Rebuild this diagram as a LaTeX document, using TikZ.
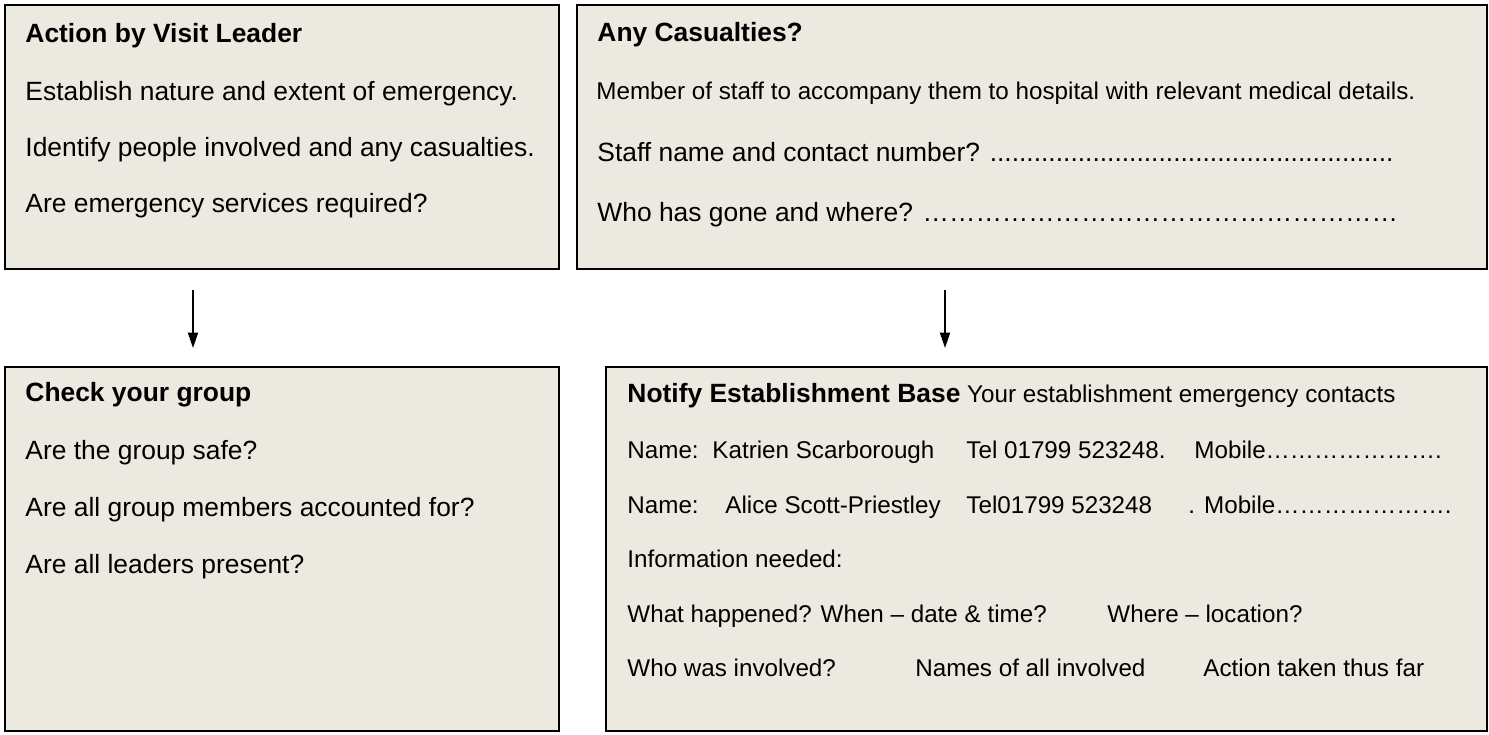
\documentclass[tikz,border=0pt]{standalone}
\usepackage{fontspec}
\setmainfont{Liberation Sans}
\usetikzlibrary{arrows.meta,calc}
\definecolor{boxfill}{RGB}{236,233,224}

\begin{document}
\begin{tikzpicture}[x=0.4545pt, y=-0.4545pt,
    panel/.style={draw=black, line width=0.9pt, fill=boxfill, inner sep=0pt, anchor=north west},
    head/.style={anchor=base west, inner sep=0pt, font=\fontsize{12}{14}\selectfont\bfseries},
    big/.style={anchor=base west, inner sep=0pt, font=\fontsize{12}{14}\selectfont},
    small/.style={anchor=base west, inner sep=0pt, font=\fontsize{11}{13}\selectfont},
    flow/.style={-{Triangle[length=7pt,width=4.6pt]}, line width=0.7pt, shorten <=9pt, shorten >=8.2pt}]
    \useasboundingbox (0,0) rectangle (1489,734);

    % Draw boxes
    \node[panel, minimum width=251.8pt, minimum height=120pt] (leader) at (4,4) {};
    \node[panel, minimum width=413.6pt, minimum height=120pt] (casualties) at (576,4) {};
    \node[panel, minimum width=251.8pt, minimum height=165.4pt] (group) at (4,366) {};
    \node[panel, minimum width=400.4pt, minimum height=165.4pt] (notify) at (605,366) {};

    % Draw arrows
    \draw[flow] ($(leader.south west)+(189,0)$) -- ($(group.north west)+(189,0)$);
    \draw[flow] ($(casualties.south west)+(369,0)$) -- ($(notify.north west)+(340,0)$);

    % Action by Visit Leader
    \node[head] (leaderhead) at (25,42) {Action by Visit Leader};
    \node[big] (leaderone) at (25,100) {Establish nature and extent of emergency.};
    \node[big] (leadertwo) at (25,156) {Identify people involved and any casualties.};
    \node[big] (leaderthree) at (25,212) {Are emergency services required?};

    % Any Casualties?
    \node[head] (casualtieshead) at (597,41) {Any Casualties?};
    \node[small] (casualtiesone) at (596,99) {Member of staff to accompany them to hospital with relevant medical details.};
    \node[big] (casualtiestwo) at (597,161) {Staff name and contact number? .......................................................};
    \node[big] (casualtiesthree) at (597,221) {Who has gone and where? ………………………………………………};

    % Check your group
    \node[head] (grouphead) at (25,401) {Check your group};
    \node[big] (groupone) at (25,459) {Are the group safe?};
    \node[big] (grouptwo) at (25,516) {Are all group members accounted for?};
    \node[big] (groupthree) at (25,573) {Are all leaders present?};

    % Notify Establishment Base
    \node[small] (notifyhead) at (627,402) {{\fontsize{12}{14}\selectfont\bfseries Notify Establishment Base} Your establishment emergency contacts};
    \node[small] (nameone) at (627,458) {Name:};
    \node[small] (personone) at (712,458) {Katrien Scarborough};
    \node[small] (telone) at (966,458) {Tel 01799 523248.};
    \node[small] (mobileone) at (1194,458) {Mobile………………….};
    \node[small] (nametwo) at (627,513) {Name:};
    \node[small] (persontwo) at (725,513) {Alice Scott-Priestley};
    \node[small] (teltwo) at (966,513) {Tel01799 523248};
    \node[small] (mobiletwo) at (1188,513) {. Mobile………………….};
    \node[small] (needed) at (627,567) {Information needed:};
    \node[small] (what) at (627,622) {What happened? When -- date \& time?};
    \node[small] (where) at (1107,622) {Where -- location?};
    \node[small] (who) at (627,676) {Who was involved?};
    \node[small] (names) at (915,676) {Names of all involved};
    \node[small] (taken) at (1203,676) {Action taken thus far};
\end{tikzpicture}
\end{document}
